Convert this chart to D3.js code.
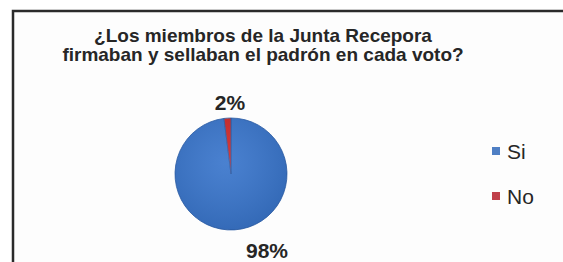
<!DOCTYPE html>
<html>
<head>
<meta charset="utf-8">
<script src="https://cdn.jsdelivr.net/npm/d3@7"></script>
<style>
  body { margin: 0; background: #fff; }
  text { font-family: "Liberation Sans", Arial, sans-serif; }
</style>
</head>
<body>
<div id="chart"></div>
<script>
// data
const categories = ["Si", "No"];
const values = [98, 2];
const labels = ["98%", "2%"];
const colors = ["#3a76cc", "#d02a2a"];
const legendColors = ["#4f7fc4", "#c0404a"];
const titleLines = ["¿Los miembros de la Junta Recepora", "firmaban y sellaban el padrón en cada voto?"];

const width = 563, height = 262;

const svg = d3.select("#chart").append("svg")
    .attr("width", width)
    .attr("height", height);

// frame (only top/left edges visible in the crop)
svg.append("rect")
    .attr("x", 13).attr("y", 11)
    .attr("width", width + 20).attr("height", height + 20)
    .attr("fill", "#fdfdfd")
    .attr("stroke", "#2a2a2a")
    .attr("stroke-width", 2.5);

// title
svg.append("g").selectAll("text")
    .data(titleLines)
    .join("text")
    .attr("x", 263)
    .attr("y", (d, i) => 42 + i * 19)
    .attr("text-anchor", "middle")
    .attr("font-size", 19)
    .attr("font-weight", "bold")
    .attr("fill", "#262626")
    .text(d => d);

// pie
const cx = 231, cy = 174, r = 56;
const pie = d3.pie().sort(null).value(d => d);
const arc = d3.arc().innerRadius(0).outerRadius(r);
const arcs = pie(values);

const defs = svg.append("defs");
const grad = defs.append("radialGradient")
    .attr("id", "shade")
    .attr("cx", "45%").attr("cy", "40%").attr("r", "60%");
grad.append("stop").attr("offset", "0%").attr("stop-color", "#fff").attr("stop-opacity", 0.08);
grad.append("stop").attr("offset", "100%").attr("stop-color", "#000").attr("stop-opacity", 0.1);

const pg = svg.append("g").attr("transform", `translate(${cx},${cy})`);
pg.selectAll("path.slice")
    .data(arcs)
    .join("path")
    .attr("class", "slice")
    .attr("d", arc)
    .attr("fill", (d, i) => colors[i])
    .attr("stroke", "#2c5ea8")
    .attr("stroke-width", 0.8);
pg.append("circle").attr("r", r).attr("fill", "url(#shade)");

// data labels
const labelPos = [[cx + 36, 258], [cx - 1, 110]];
svg.append("g").selectAll("text")
    .data(labels)
    .join("text")
    .attr("x", (d, i) => labelPos[i][0])
    .attr("y", (d, i) => labelPos[i][1])
    .attr("text-anchor", "middle")
    .attr("font-size", 21)
    .attr("font-weight", "bold")
    .attr("fill", "#262626")
    .text(d => d);

// legend
const lg = svg.append("g").attr("transform", "translate(492,151)");
const items = lg.selectAll("g")
    .data(categories)
    .join("g")
    .attr("transform", (d, i) => `translate(0,${i * 45})`);
items.append("rect")
    .attr("x", 0).attr("y", -4)
    .attr("width", 8).attr("height", 8)
    .attr("fill", (d, i) => legendColors[i]);
items.append("text")
    .attr("x", 15).attr("y", 8)
    .attr("font-size", 21)
    .attr("fill", "#262626")
    .text(d => d);
</script>
</body>
</html>
